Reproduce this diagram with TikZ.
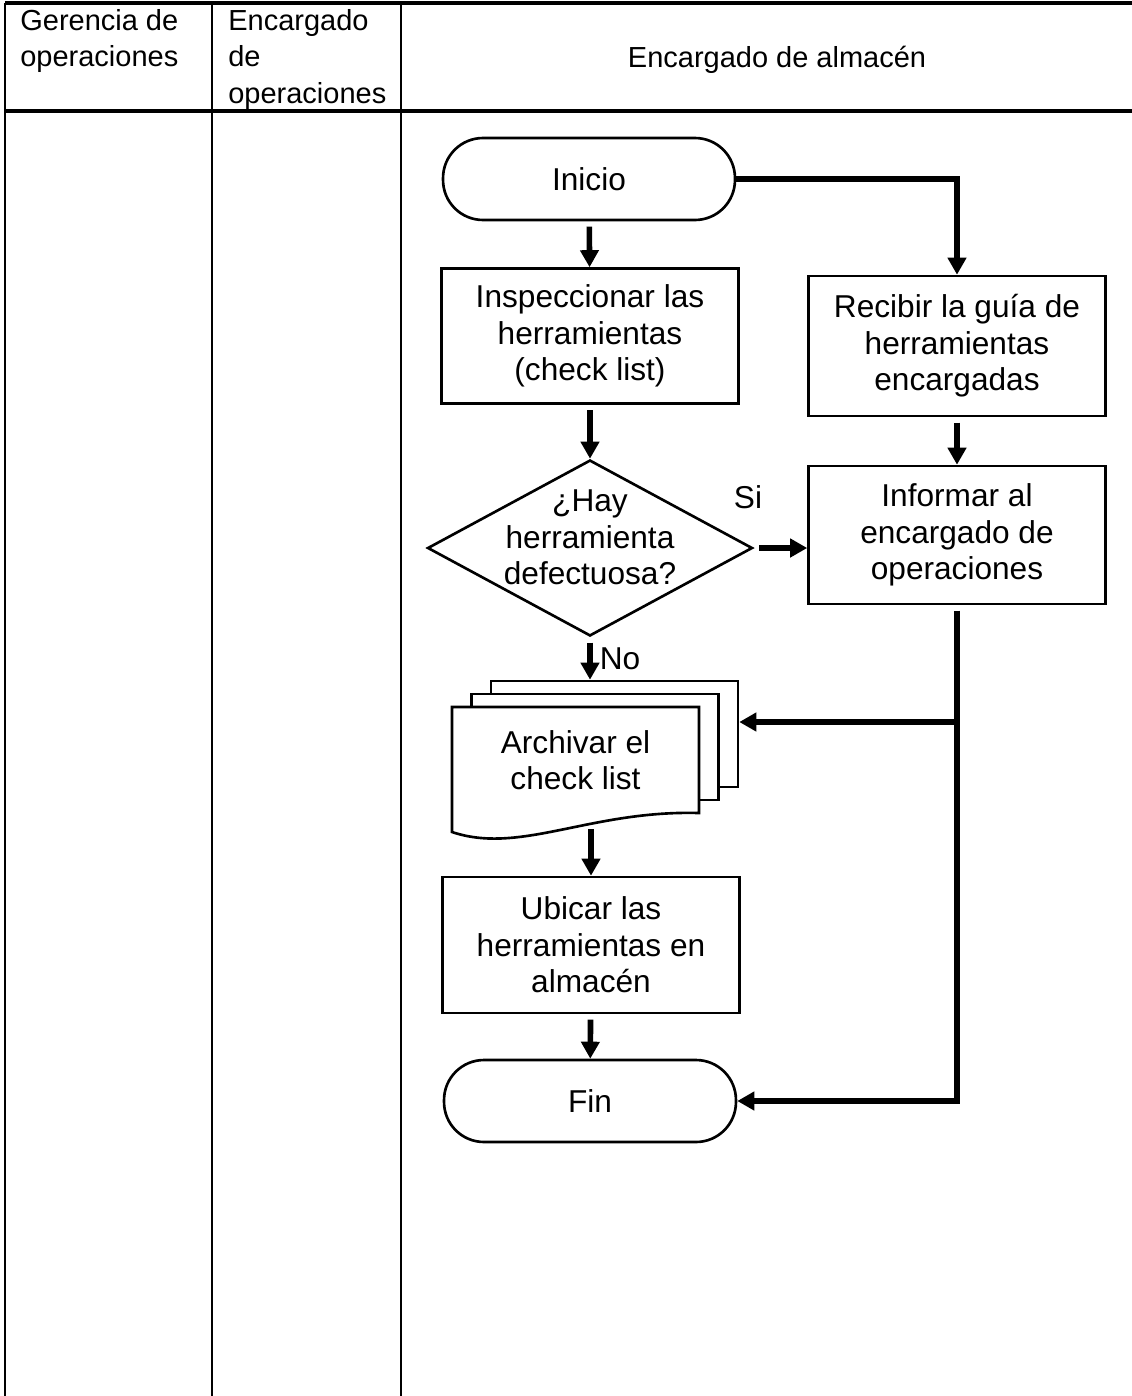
\documentclass[tikz,border=0pt]{standalone}
\usepackage{fontspec}
\setmainfont{Liberation Sans}
\usetikzlibrary{shapes.geometric,arrows.meta}
\begin{document}
\begin{tikzpicture}[x=0.02cm,y=-0.02cm]
    \tikzstyle{head} = [font=\fontsize{16.5}{20.7}\selectfont,inner sep=0pt,align=left]
    \tikzstyle{block} = [rectangle,minimum width=5.94cm,minimum height=2.72cm,text centered,align=center,draw=black,fill=white,line width=1.5pt,font=\fontsize{18}{20.7}\selectfont]
    \tikzstyle{term} = [block,rounded corners=0.8cm,minimum width=5.84cm,minimum height=1.64cm]
    \tikzstyle{decision} = [diamond,draw=black,line width=1.5pt,minimum width=6.5cm,minimum height=3.52cm,inner sep=0pt]
    \tikzstyle{sheet} = [rectangle,draw=black,fill=white,line width=1.5pt,minimum width=4.94cm,minimum height=2.12cm]
    \tikzstyle{lbl} = [font=\fontsize{18}{20.7}\selectfont,align=center,inner sep=0pt]
    \tikzstyle{flow} = [line width=3.2pt,shorten <=3pt,-{Triangle[length=0.34cm,width=0.36cm]}]
    \useasboundingbox (0,0) rectangle (1132,1396);
    \draw [line width=2pt] (5,3) -- (1132,3);
    \draw [line width=2pt] (5,111) -- (1132,111);
    \draw [line width=1.2pt] (5,3) -- (5,1396);
    \draw [line width=1.2pt] (212,3) -- (212,1396);
    \draw [line width=1.2pt] (401,3) -- (401,1396);
    \node (gerencia)[head,anchor=north west] at (20,9) {Gerencia de\\operaciones};
    \node (encop)[head,anchor=north west] at (228,9) {Encargado\\de\\operaciones};
    \node (encalm)[head] at (777,60) {Encargado de almacén};
    \node (inicio)[term] at (589,179) {Inicio};
    \node (insp)[block,minimum height=2.7cm] at (590,336) {Inspeccionar las\\herramientas\\(check list)};
    \node (recibir)[block,minimum height=2.8cm] at (957,346) {Recibir la guía de\\herramientas\\encargadas};
    \node (dec)[decision,label={[lbl,yshift=6pt]center:¿Hay\\herramienta\\defectuosa?}] at (590,548) {};
    \node (informar)[block,minimum height=2.76cm] at (957,535) {Informar al\\encargado de\\operaciones};
    \node (si)[lbl] at (748,497) {Si};
    \node (back2)[sheet] at (614.5,734) {};
    \node (back1)[sheet] at (595,747) {};
    \draw [fill=white,line width=1.5pt] (452,707) -- (699,707) -- (699,813) .. controls (590,810) and (520,855) .. (452,832) -- cycle;
    \node (doc)[lbl] at (575.5,760) {Archivar el\\check list};
    \coordinate (docfoot) at (591,824);
    \node (ubicar)[block,minimum height=2.72cm] at (591,945) {Ubicar las\\herramientas en\\almacén};
    \node (fin)[term] at (590,1101) {Fin};
    \coordinate (join) at (960,722);
    \draw [flow] (inicio) -- (insp);
    \draw [flow,shorten <=0pt] (inicio.east) -| (recibir.north);
    \draw [flow] (insp) -- (dec);
    \draw [flow] (recibir) -- (informar);
    \draw [flow] (dec.east) -- (dec.east -| informar.west);
    \draw [flow] (dec.south) -- node [lbl,right=4pt] (no) {No} (dec.south |- back2.north);
    \draw [flow] (informar.south) |- (fin.east);
    \draw [flow] (join) -- (join -| back2.east);
    \draw [flow] (docfoot) -- (ubicar.north);
    \draw [flow] (ubicar) -- (fin);
\end{tikzpicture}
\end{document}
